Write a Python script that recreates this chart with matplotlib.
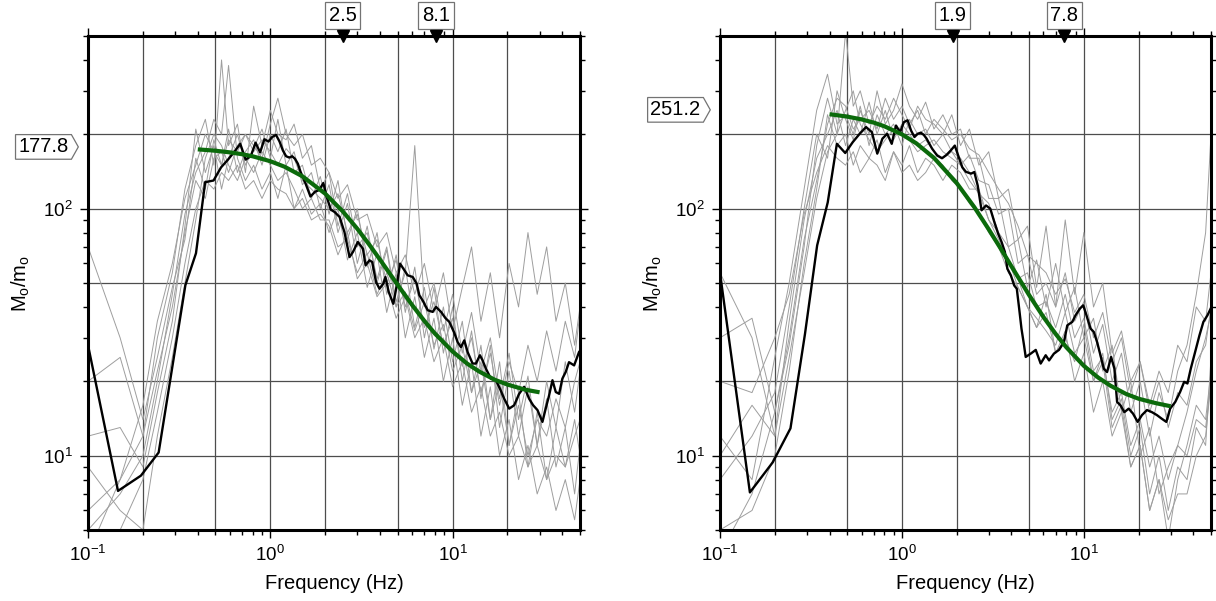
import numpy as np
import matplotlib
matplotlib.use('Agg')
import matplotlib.pyplot as plt
from matplotlib.path import Path
from matplotlib.ticker import LogLocator, NullFormatter

plt.rcParams['font.family'] = ['Liberation Sans', 'DejaVu Sans']
plt.rcParams['mathtext.fontset'] = 'custom'
plt.rcParams['mathtext.rm'] = 'Liberation Sans'
plt.rcParams['mathtext.it'] = 'Liberation Sans:italic'

# ---- data ----
# common frequency grid of the single-pair ratios (grey)
freq_gray = [0.10, 0.15, 0.20, 0.24, 0.29, 0.34, 0.39, 0.44, 0.49, 0.54,
             0.59, 0.66, 0.73, 0.81, 0.90, 1.00, 1.10, 1.22, 1.35, 1.50,
             1.68, 1.88, 2.10, 2.35, 2.65, 3.00, 3.40, 3.85, 4.35, 4.90,
             5.50, 6.20, 7.00, 7.90, 8.90, 10.0, 11.3, 12.7, 14.3, 16.1,
             18.1, 20.4, 23.0, 25.9, 29.1, 32.8, 36.9, 41.5, 46.7, 50.0]

gray_left = [
    [70, 30, 14, 25, 48, 75, 160, 120, 190, 150, 210, 140, 170, 190, 150, 200, 170, 210, 140, 150,
     110, 135, 95, 130, 75, 100, 58, 80, 45, 65, 38, 58, 30, 48, 26, 40, 20, 32, 17, 28,
     13, 22, 12, 19, 11, 20, 13, 24, 15, 22],
    [12, 13, 9, 18, 35, 85, 210, 140, 180, 120, 160, 200, 150, 175, 210, 160, 230, 150, 170, 125,
     140, 100, 125, 80, 105, 60, 85, 50, 68, 40, 58, 33, 48, 27, 40, 24, 35, 18, 28, 14,
     24, 11, 18, 9, 15, 8, 13, 9, 14, 10],
    [6, 8, 12, 30, 55, 120, 180, 230, 150, 400, 180, 220, 140, 260, 180, 250, 200, 190, 220, 160,
     180, 120, 140, 85, 115, 70, 80, 52, 70, 42, 55, 180, 40, 50, 32, 45, 26, 38, 22, 30,
     17, 26, 14, 21, 11, 17, 9, 13, 7, 11],
    [5, 7, 10, 20, 45, 95, 140, 170, 230, 200, 380, 160, 130, 150, 120, 140, 110, 150, 100, 120,
     95, 105, 80, 100, 62, 80, 48, 66, 38, 55, 30, 44, 25, 36, 20, 30, 16, 24, 12, 19,
     10, 14, 8, 11, 7, 9, 6, 8, 5.5, 8],
    [4, 8, 16, 35, 60, 110, 150, 200, 170, 150, 190, 170, 200, 180, 160, 220, 280, 200, 180, 200,
     150, 160, 140, 110, 125, 90, 95, 70, 80, 55, 65, 45, 60, 38, 55, 32, 48, 70, 35, 55,
     30, 60, 40, 80, 45, 70, 35, 50, 28, 40],
    [3, 5, 8, 15, 30, 60, 100, 130, 120, 140, 130, 150, 120, 130, 110, 130, 120, 115, 100, 110,
     90, 95, 85, 65, 80, 52, 60, 44, 50, 36, 44, 30, 36, 24, 30, 19, 24, 15, 19, 12,
     15, 10, 12, 9, 11, 8, 10, 9, 12, 14],
    [20, 25, 12, 22, 40, 80, 130, 110, 160, 170, 140, 180, 200, 170, 190, 170, 150, 175, 160, 130,
     120, 110, 100, 115, 80, 95, 65, 75, 50, 62, 40, 52, 33, 42, 28, 36, 23, 30, 18, 26,
     16, 24, 18, 28, 20, 32, 22, 35, 25, 38],
    [9, 6, 5, 12, 25, 50, 90, 160, 200, 180, 150, 130, 160, 140, 170, 150, 130, 140, 120, 100,
     110, 90, 90, 70, 75, 55, 66, 45, 55, 40, 46, 32, 42, 28, 34, 22, 28, 18, 24, 14,
     20, 11, 16, 10, 14, 12, 17, 13, 20, 24],
]

gray_right = [
    [30, 36, 15, 28, 70, 180, 280, 200, 520, 260, 300, 220, 260, 230, 280, 240, 210, 260, 230, 220,
     200, 240, 180, 210, 150, 170, 110, 120, 75, 85, 48, 85, 40, 55, 35, 42, 26, 34, 20, 26,
     15, 20, 12, 18, 14, 22, 28, 45, 80, 200],
    [8, 12, 18, 40, 100, 200, 160, 300, 230, 190, 250, 200, 300, 220, 250, 320, 260, 230, 270, 210,
     240, 200, 210, 160, 160, 110, 110, 70, 75, 48, 62, 40, 60, 38, 48, 30, 36, 22, 28, 15,
     20, 10, 13, 7, 9, 11, 15, 22, 30, 38],
    [5, 6, 10, 22, 60, 120, 240, 180, 200, 150, 180, 160, 190, 140, 170, 150, 180, 140, 160, 150,
     130, 150, 140, 120, 120, 90, 80, 60, 52, 40, 33, 45, 26, 32, 20, 26, 15, 20, 12, 15,
     9, 11, 6, 8, 4.6, 8, 11, 16, 14, 22],
    [55, 30, 12, 35, 90, 160, 200, 250, 180, 230, 200, 270, 200, 250, 190, 220, 200, 180, 190, 170,
     160, 170, 150, 165, 130, 125, 95, 100, 60, 65, 45, 50, 40, 90, 45, 80, 40, 50, 26, 32,
     20, 24, 16, 22, 18, 28, 24, 40, 35, 55],
    [12, 8, 25, 50, 120, 250, 350, 220, 240, 200, 260, 180, 240, 200, 220, 180, 230, 200, 210, 180,
     200, 170, 160, 140, 115, 105, 80, 70, 52, 55, 40, 42, 33, 45, 30, 36, 22, 25, 15, 18,
     11, 14, 9, 12, 8, 11, 10, 14, 13, 20],
    [20, 18, 30, 45, 95, 140, 180, 160, 150, 170, 140, 160, 150, 130, 170, 140, 150, 130, 140, 160,
     150, 130, 120, 105, 95, 80, 70, 55, 48, 40, 33, 38, 26, 30, 24, 34, 20, 26, 14, 17,
     10, 13, 7, 10, 6, 9, 8, 13, 11, 25],
    [4, 7, 15, 30, 75, 130, 220, 280, 260, 210, 230, 250, 210, 280, 230, 260, 220, 250, 200, 230,
     210, 190, 200, 175, 165, 140, 120, 105, 85, 65, 60, 55, 45, 52, 38, 45, 30, 38, 24, 30,
     18, 24, 15, 20, 13, 18, 16, 24, 28, 40],
    [10, 16, 12, 25, 55, 110, 170, 200, 250, 300, 220, 190, 170, 190, 210, 200, 190, 170, 180, 190,
     170, 160, 150, 130, 115, 90, 75, 62, 48, 40, 36, 32, 28, 38, 26, 30, 20, 24, 13, 16,
     9, 11, 6, 8, 5.5, 7, 7, 10, 12, 20],
]

# mean spectral ratio (black)
freq_black_left = [0.1, 0.146, 0.195, 0.244, 0.293, 0.342, 0.391, 0.439, 0.488, 0.537,
                   0.586, 0.635, 0.684, 0.732, 0.781, 0.830, 0.879, 0.928, 0.977, 1.025,
                   1.074, 1.123, 1.172, 1.221, 1.270, 1.318, 1.367, 1.416, 1.465, 1.563,
                   1.660, 1.758, 1.855, 1.953, 2.051, 2.148, 2.25, 2.40, 2.55, 2.72,
                   2.84, 3.02, 3.22, 3.33, 3.50, 3.62, 3.80, 3.97, 4.17, 4.28,
                   4.46, 4.73, 4.90, 5.15, 5.37, 5.67, 6.04, 6.35, 6.57, 6.85,
                   7.30, 7.77, 8.11, 8.64, 9.12, 9.59, 10.2, 10.66, 11.11, 11.59,
                   12.08, 12.87, 13.42, 14.12, 14.6, 15.23, 16.22, 17.28, 18.16, 19.19,
                   20.43, 21.76, 23.17, 24.69, 26.29, 27.65, 29.2, 31.1, 32.4, 33.8,
                   35.3, 36.8, 38.4, 40.0, 41.7, 43.5, 46.4, 49.4, 51.0]
black_left = [28, 7.2, 8.3, 10.3, 24, 49, 66, 128, 130, 147,
              158, 170, 183, 158, 163, 185, 169, 191, 187, 195,
              199, 187, 172, 163, 161, 163, 159, 152, 141, 126,
              112, 117, 119, 127, 110, 99, 97, 92.5, 80.4, 63.7,
              66.8, 73.3, 68.9, 59, 61.8, 60.8, 50.5, 47.4, 49.7, 52.9,
              46, 41.2, 47.4, 59.9, 57.1, 53.7, 52.9, 49.7, 44.6, 42.5,
              38.8, 38.2, 40, 38.2, 36.1, 34.8, 31.5, 28.8, 27.5, 29.3,
              26.3, 23.6, 23.6, 25.5, 24.3, 22.5, 20.5, 20.2, 18.7, 17.0,
              15.5, 16.0, 17.8, 19.0, 17.0, 16.0, 15.3, 13.7, 15.5, 17.5,
              20.2, 18.1, 17.8, 20.5, 21.8, 23.9, 23.2, 26.3, 27]

freq_black_right = [0.1, 0.146, 0.195, 0.244, 0.293, 0.342, 0.391, 0.439, 0.488, 0.537,
                    0.586, 0.635, 0.684, 0.732, 0.781, 0.830, 0.879, 0.928, 0.977, 1.025,
                    1.074, 1.123, 1.172, 1.221, 1.270, 1.318, 1.367, 1.416, 1.465, 1.563,
                    1.660, 1.758, 1.855, 1.953, 2.051, 2.148, 2.246, 2.40, 2.50, 2.61,
                    2.74, 2.90, 3.06, 3.22, 3.38, 3.53, 3.68, 3.80, 3.97, 4.14,
                    4.28, 4.41, 4.54, 4.69, 4.79, 5.11, 5.44, 5.79, 6.17, 6.44,
                    6.85, 7.30, 7.77, 8.11, 8.64, 9.00, 9.51, 9.92, 10.34, 10.88,
                    11.34, 11.83, 12.34, 12.87, 13.42, 14.12, 14.72, 15.23, 15.88, 16.70,
                    17.64, 18.63, 19.76, 20.87, 22.23, 23.67, 25.2, 26.85, 28.4, 29.8,
                    31.8, 33.8, 35.6, 37.1, 38.7, 40.9, 43.2, 45.4, 47.8, 49.8, 51.0]
black_right = [55, 7.1, 9.4, 12.9, 31, 71, 106, 183, 168, 186,
               201, 214, 204, 167, 192, 201, 183, 217, 204, 224,
               228, 207, 195, 201, 203, 199, 192, 183, 175, 164,
               160, 165, 172, 180, 162, 147, 141, 138.6, 140.7, 124,
               98.5, 103, 100, 88.3, 79.2, 73.3, 66.8, 57.1, 53.7, 48.9,
               47.4, 39.4, 32.7, 28, 25.1, 25.9, 26.8, 23.6, 25.5, 24.3,
               25.9, 26.8, 28.8, 33.7, 34.8, 37, 39.4, 40.6, 37, 32.7,
               31.7, 28.8, 25.5, 22.5, 21.8, 25.1, 22.5, 16.5, 16.0, 15.0,
               15.5, 14.8, 13.7, 14.6, 15.3, 15.0, 14.6, 14.1, 13.7, 15.5,
               16.5, 18.1, 19.9, 19.6, 22.5, 26.3, 30.7, 34.8, 37, 39.4, 41]

# fitted spectral-ratio model (green)
freq_fit = [0.4, 0.5, 0.6, 0.7, 0.8, 1.0, 1.2, 1.5, 2.0, 2.5, 3.0, 3.5,
            4.0, 5.0, 6.0, 7.0, 8.0, 10, 12, 14, 17, 20, 25, 30]
fit_left = [173.8, 171.6, 169.0, 166.1, 162.9, 155.6, 147.7, 135.2, 115.0, 97.4, 82.9, 71.3,
            62.1, 49.1, 40.7, 35.1, 31.2, 26.4, 23.6, 21.9, 20.3, 19.4, 18.5, 18.05]
fit_right = [241.2, 235.9, 229.8, 223.0, 215.6, 199.9, 183.8, 160.5, 127.0, 101.4, 82.5, 68.7,
             58.4, 44.7, 36.4, 31.1, 27.5, 23.1, 20.7, 19.2, 17.8, 17.0, 16.3, 15.85]

plateau = [177.8, 251.2]
corner_freqs = [[2.5, 8.1], [1.9, 7.8]]


def pointer_box(x0, y0, width, height, mutation_size):
    pad = 0.14 * mutation_size
    x0, y0 = x0 - pad, y0 - pad
    x1, y1 = x0 + width + 2 * pad, y0 + height + 2 * pad
    tip = (y1 - y0) * 0.28
    ym = 0.5 * (y0 + y1)
    return Path([(x0, y0), (x1, y0), (x1 + tip, ym), (x1, y1), (x0, y1), (x0, y0)], closed=True)


fig = plt.figure(figsize=(12.16, 6.01), dpi=100)
ax1 = fig.add_axes([0.0724, 0.1181, 0.4046, 0.8220])
ax2 = fig.add_axes([0.5921, 0.1181, 0.4038, 0.8220])

panels = [(ax1, gray_left, freq_black_left, black_left, fit_left),
          (ax2, gray_right, freq_black_right, black_right, fit_right)]

for i, (ax, grays, fb, vb, fit) in enumerate(panels):
    ax.set_xscale('log')
    ax.set_yscale('log')
    ax.set_xlim(0.1, 50)
    ax.set_ylim(5, 500)

    for g in [0.2, 0.5, 1, 2, 5, 10, 20]:
        ax.axvline(g, color='0.3', lw=0.9, zorder=0.5)
    for g in [10, 20, 50, 100, 200]:
        ax.axhline(g, color='0.3', lw=0.9, zorder=0.5)

    for g in grays:
        ax.plot(freq_gray, g, color='0.62', lw=0.7, zorder=1)
    ax.plot(fb, vb, color='black', lw=1.7, zorder=3)
    ax.plot(freq_fit, fit, color='#0b6a0b', lw=3.0, zorder=4, solid_capstyle='butt')

    for sp in ax.spines.values():
        sp.set_linewidth(2.2)
    ax.xaxis.set_major_locator(LogLocator(base=10))
    ax.xaxis.set_minor_locator(LogLocator(base=10, subs=np.arange(2, 10)))
    ax.yaxis.set_minor_locator(LogLocator(base=10, subs=np.arange(2, 10)))
    ax.xaxis.set_minor_formatter(NullFormatter())
    ax.yaxis.set_minor_formatter(NullFormatter())
    ax.tick_params(which='both', direction='out', top=True, right=True, width=1,
                   labelsize=13.5, colors='black')
    ax.tick_params(which='major', length=6, pad=5)
    ax.tick_params(which='minor', length=3.5)

    ax.set_xlabel('Frequency (Hz)', fontsize=14.5, labelpad=6)
    ax.set_ylabel(r'M$_{\mathrm{o}}$/m$_{\mathrm{o}}$', fontsize=14.5, labelpad=8)

    # corner-frequency markers on top frame
    for fc in corner_freqs[i]:
        ax.plot([fc], [1.0], marker='v', color='black', ms=8,
                transform=ax.get_xaxis_transform(), clip_on=False, zorder=6)
        ax.annotate('%.1f' % fc, xy=(fc, 1.0), xycoords=ax.get_xaxis_transform(),
                    xytext=(0, 8), textcoords='offset points', ha='center', va='bottom',
                    fontsize=14.5,
                    bbox=dict(boxstyle='square,pad=0.18', fc='white', ec='0.45', lw=0.9))

    # plateau level on the left
    ax.annotate('%.1f' % plateau[i], xy=(0, plateau[i]), xycoords=ax.get_yaxis_transform(),
                xytext=(-14, 0), textcoords='offset points', ha='right', va='center',
                fontsize=14.5, annotation_clip=False,
                bbox=dict(boxstyle=pointer_box, fc='white', ec='0.45', lw=0.9))

fig.savefig('out.png', dpi=100)
